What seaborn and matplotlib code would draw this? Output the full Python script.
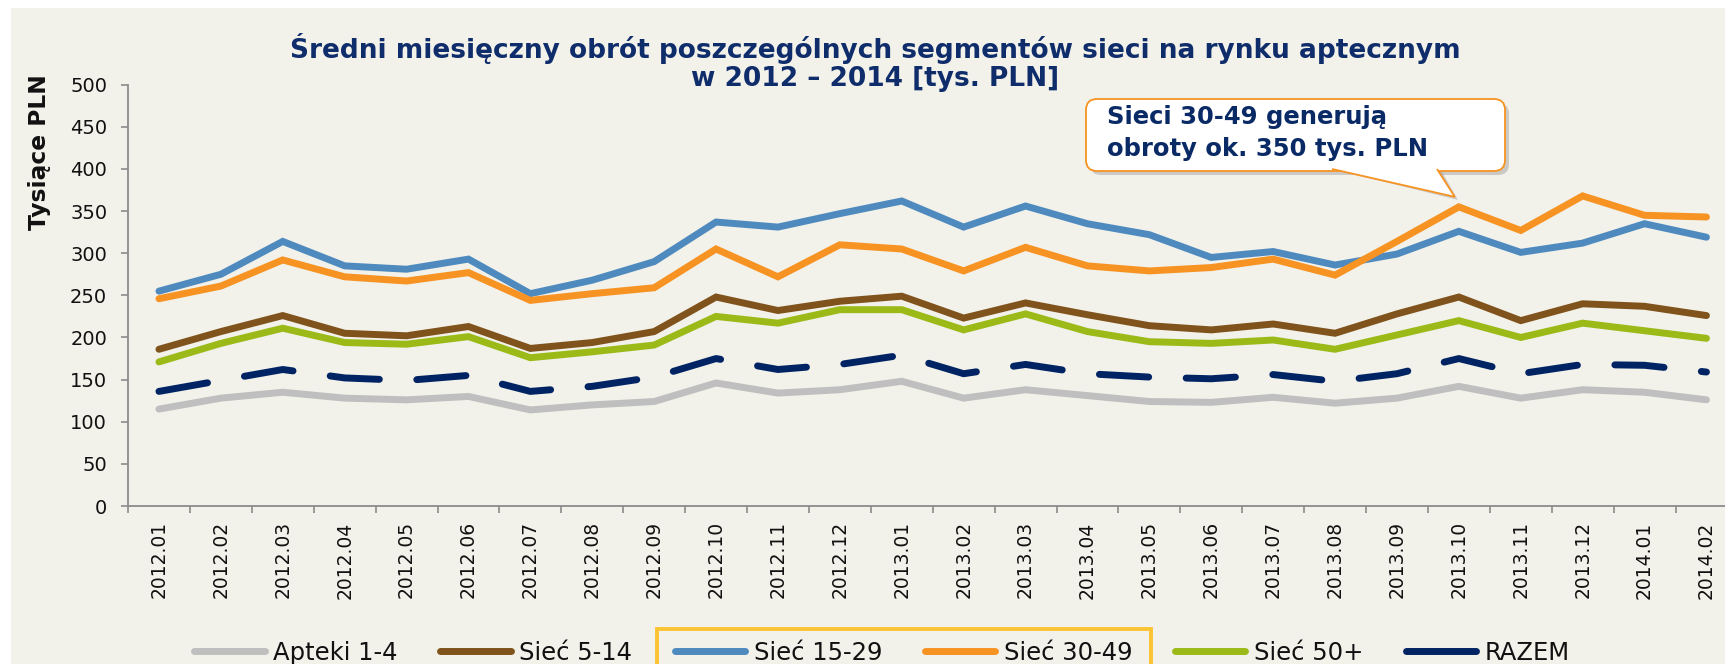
import numpy as np
import pandas as pd
import matplotlib
matplotlib.use("Agg")
import matplotlib.pyplot as plt
import seaborn as sns
from matplotlib.patches import FancyBboxPatch, Rectangle, PathPatch
from matplotlib.path import Path
from matplotlib.lines import Line2D
from matplotlib.transforms import IdentityTransform

# ---------------- data ----------------
months = ["2012.01", "2012.02", "2012.03", "2012.04", "2012.05", "2012.06",
          "2012.07", "2012.08", "2012.09", "2012.10", "2012.11", "2012.12",
          "2013.01", "2013.02", "2013.03", "2013.04", "2013.05", "2013.06",
          "2013.07", "2013.08", "2013.09", "2013.10", "2013.11", "2013.12",
          "2014.01", "2014.02"]

apteki_1_4 = [115, 128, 135, 128, 126, 130, 114, 120, 124, 146, 134, 138, 148,
              128, 138, 131, 124, 123, 129, 122, 128, 142, 128, 138, 135, 126]
siec_5_14 = [186, 207, 226, 205, 202, 213, 187, 194, 207, 248, 232, 243, 249,
             223, 241, 227, 214, 209, 216, 205, 228, 248, 220, 240, 237, 226]
siec_15_29 = [255, 275, 314, 285, 281, 293, 252, 268, 290, 337, 331, 347, 362,
              331, 356, 335, 322, 295, 302, 286, 299, 326, 301, 312, 335, 319]
siec_30_49 = [246, 261, 292, 272, 267, 277, 244, 252, 259, 305, 272, 310, 305,
              279, 307, 285, 279, 283, 293, 274, 314, 355, 327, 368, 345, 343]
siec_50 = [171, 193, 211, 194, 192, 201, 176, 183, 191, 225, 217, 233, 233,
           209, 228, 207, 195, 193, 197, 186, 203, 220, 200, 217, 208, 199]
razem = [136, 149, 162, 152, 149, 155, 136, 142, 153, 175, 162, 168, 179,
         157, 168, 157, 153, 151, 156, 148, 157, 175, 157, 168, 167, 159]

series_names = ["Apteki 1-4", "Sieć 5-14", "Sieć 15-29", "Sieć 30-49", "Sieć 50+", "RAZEM"]
series_values = [apteki_1_4, siec_5_14, siec_15_29, siec_30_49, siec_50, razem]
colors = ["#BFBFBF", "#7F531B", "#4F8ABF", "#F79322", "#9BBA18", "#002463"]

title = "Średni miesięczny obrót poszczególnych segmentów sieci na rynku aptecznym\nw 2012 – 2014 [tys. PLN]"
ylabel = "Tysiące PLN"
callout = "Sieci 30-49 generują\nobroty ok. 350 tys. PLN"
callout_idx = 21

# ---------------- style ----------------
BG = "#F2F1EA"
NAVY = "#0F2D6B"
sns.set_theme(style="white")
plt.rcParams["font.family"] = ["DejaVu Sans"]

W, H = 1725, 664
fig = plt.figure(figsize=(W / 100, H / 100), dpi=100, facecolor="white")
fig.patches.append(Rectangle((11 / W, 0), 1, 1 - 8 / H, transform=fig.transFigure,
                             facecolor=BG, edgecolor="none", zorder=-10))

ax_left, ax_bottom, ax_w, ax_h = 128, 506, 1609.4, 421.3
ax = fig.add_axes([ax_left / W, (H - ax_bottom) / H, ax_w / W, ax_h / H])
ax.set_facecolor("none")

df = pd.concat([
    pd.DataFrame({"pos": np.arange(len(months)), "month": months,
                  "series": name, "value": vals})
    for name, vals in zip(series_names, series_values)
], ignore_index=True)

dashes = {n: "" for n in series_names}
dashes["RAZEM"] = (7.1, 5.4)
sns.lineplot(data=df, x="pos", y="value", hue="series", style="series",
             hue_order=series_names, style_order=series_names,
             palette=dict(zip(series_names, colors)), dashes=dashes,
             linewidth=5, sort=False, legend=False, ax=ax)
for ln in ax.lines:
    ln.set_solid_capstyle("round")
    ln.set_dash_capstyle("round")
    ln.set_solid_joinstyle("miter")
    ln.set_dash_joinstyle("round")

ax.set_xlim(-0.5, len(months) - 0.5)
ax.set_ylim(0, 500)
ax.set_yticks(np.arange(0, 501, 50))
ax.set_xticks(np.arange(len(months)))
ax.set_xticklabels(months, rotation=90, va="top")
ax.set_xticks(np.arange(-0.5, len(months), 1), minor=True)
ax.tick_params(axis="x", which="major", length=0, pad=11, labelsize=13.5, labelcolor="#111111")
ax.tick_params(axis="x", which="minor", length=5, width=1.2, color="#8C8C8C", direction="out", bottom=True)
ax.tick_params(axis="y", which="major", length=5, width=1.2, color="#8C8C8C", direction="out",
               left=True, pad=10, labelsize=14, labelcolor="#111111")
ax.set_xlabel("")
ax.set_ylabel("")
for s in ["top", "right"]:
    ax.spines[s].set_visible(False)
for s in ["left", "bottom"]:
    ax.spines[s].set_color("#8C8C8C")
    ax.spines[s].set_linewidth(1.3)
ax.grid(False)

# title and y label
fig.text(875 / W, 1 - 62 / H, title, ha="center", va="center", fontsize=19,
         fontweight="bold", color=NAVY, linespacing=1.1)
fig.text(40 / W, 1 - 152 / H, ylabel, ha="center", va="center", rotation=90,
         fontsize=16.8, fontweight="bold", color="#111111")

# legend
handles = [Line2D([0], [0], color=c, lw=5, solid_capstyle="round") for c in colors]
leg = fig.legend(handles, series_names, loc="center", bbox_to_anchor=(882 / W, 1 - 653 / H),
                 ncol=6, frameon=False, handlelength=2.9, handletextpad=0.35,
                 columnspacing=1.75, prop={"size": 17.5})
for t in leg.get_texts():
    t.set_color("#111111")

fig.canvas.draw()
r = fig.canvas.get_renderer()
t2 = leg.get_texts()[2].get_window_extent(r)
t3 = leg.get_texts()[3].get_window_extent(r)
hl = leg.legend_handles[2].get_window_extent(r)
x0 = hl.x0 - 18
x1 = t3.x1 + 19
ytop = (t2.y0 + t2.y1) / 2 + 24
fig.patches.append(Rectangle((x0, -10), x1 - x0, ytop + 10, transform=IdentityTransform(),
                             facecolor="none", edgecolor="#FCC434", lw=2.8, zorder=5))

# callout box
bx0, bx1, by_top, by_bot = 1086, 1505, 99, 171
shadow = FancyBboxPatch((bx0 + 4, H - by_bot - 4), bx1 - bx0, by_bot - by_top,
                        boxstyle="round,pad=0,rounding_size=11", transform=IdentityTransform(),
                        facecolor="#9A9A9A", edgecolor="none", alpha=0.45, zorder=6)
box = FancyBboxPatch((bx0, H - by_bot), bx1 - bx0, by_bot - by_top,
                     boxstyle="round,pad=0,rounding_size=11", transform=IdentityTransform(),
                     facecolor="white", edgecolor="#F79322", lw=1.3, zorder=7)
fig.patches.extend([shadow, box])
tip = ax.transData.transform((callout_idx, siec_30_49[callout_idx]))
tip = (tip[0] - 4, tip[1] + 10)
tail_shadow = PathPatch(Path([(1336, H - by_bot + 1), (tip[0] + 3, tip[1] - 3), (1441, H - by_bot + 1)],
                             [Path.MOVETO, Path.LINETO, Path.LINETO]),
                        transform=IdentityTransform(), facecolor="#9A9A9A", edgecolor="none",
                        alpha=0.45, zorder=6)
tail = PathPatch(Path([(1332, H - by_bot + 2), tip, (1437, H - by_bot + 2)],
                      [Path.MOVETO, Path.LINETO, Path.LINETO]),
                 transform=IdentityTransform(), facecolor="white", edgecolor="#F79322",
                 lw=1.3, zorder=8)
fig.patches.extend([tail_shadow, tail])
fig.text(1107 / W, 1 - 133 / H, callout, ha="left", va="center", fontsize=17.5,
         fontweight="bold", color="#0A2A66", linespacing=1.45, zorder=9)

fig.savefig("out.png", dpi=100, facecolor="white")
